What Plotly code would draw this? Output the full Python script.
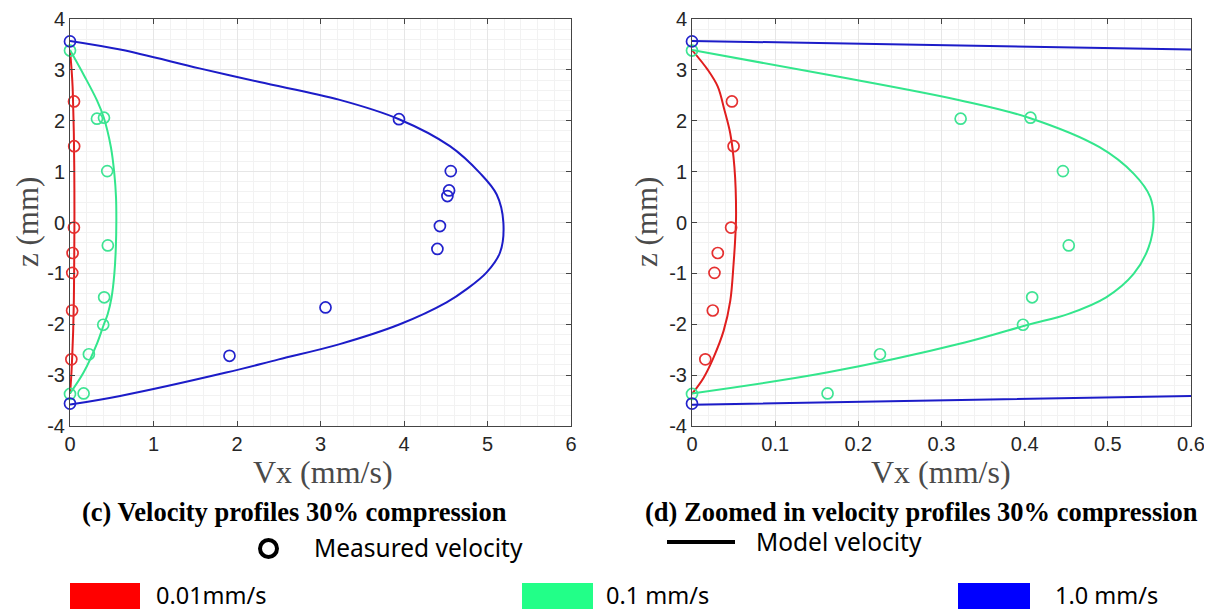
import plotly.graph_objects as go

# ---------------- data (Vx in mm/s, z in mm) ----------------
# model velocity curves
red_model_v = [0, 0.019, 0.031, 0.039, 0.046, 0.051, 0.053, 0.052, 0.050, 0.046, 0.038, 0.026, 0.014, 0]
red_model_z = [3.39, 3.00, 2.67, 2.21, 1.75, 1.09, 0.17, -0.30, -0.81, -1.54, -2.13, -2.65, -3.05, -3.37]

green_model_v = [0, 0.165, 0.323, 0.405, 0.490, 0.531, 0.551, 0.555, 0.549, 0.531, 0.498, 0.452, 0.404, 0.328, 0.162, 0]
green_model_z = [3.39, 2.90, 2.40, 2.06, 1.48, 0.96, 0.50, 0.04, -0.49, -1.01, -1.47, -1.80, -2.01, -2.36, -2.95, -3.36]

blue_model_v = [0, 0.6, 1.55, 2.27, 3.23, 3.94, 4.55, 4.91, 5.11, 5.19, 5.15, 4.99, 4.75, 4.51, 3.95, 3.23, 2.5, 1.87, 0.6, 0]
blue_model_z = [3.57, 3.40, 3.03, 2.76, 2.41, 2.03, 1.50, 0.97, 0.55, 0.0, -0.59, -0.98, -1.31, -1.57, -2.0, -2.39, -2.69, -2.95, -3.41, -3.58]

# measured velocities
red_meas_v = [0.048, 0.050, 0.047, 0.031, 0.027, 0.025, 0.016]
red_meas_z = [2.38, 1.50, -0.10, -0.60, -0.99, -1.73, -2.69]

green_meas_v = [0, 0.323, 0.407, 0.446, 0.453, 0.409, 0.398, 0.226, 0.163, 0]
green_meas_z = [3.38, 2.04, 2.06, 1.01, -0.45, -1.47, -2.01, -2.59, -3.36, -3.37]

blue_meas_v = [0, 3.94, 4.56, 4.54, 4.52, 4.43, 4.40, 3.06, 1.91, 0]
blue_meas_z = [3.56, 2.03, 1.01, 0.63, 0.52, -0.07, -0.52, -1.67, -2.62, -3.56]

# ticks
left_x_ticks = [0, 1, 2, 3, 4, 5, 6]
left_x_labels = ["0", "1", "2", "3", "4", "5", "6"]
right_x_ticks = [0, 0.1, 0.2, 0.3, 0.4, 0.5, 0.6]
right_x_labels = ["0", "0.1", "0.2", "0.3", "0.4", "0.5", "0.6"]
y_ticks = [-4, -3, -2, -1, 0, 1, 2, 3, 4]
y_labels = ["-4", "-3", "-2", "-1", "0", "1", "2", "3", "4"]

series_names = ["0.01mm/s", "0.1 mm/s", "1.0 mm/s"]
caption_left = "(c) Velocity profiles 30% compression"
caption_right = "(d) Zoomed in velocity profiles 30% compression"

# ---------------- styling / layout helpers ----------------
PAGE_W, PAGE_H = 1212, 612
OFF = 8  # default page body margin
W, H = PAGE_W - OFF, PAGE_H - OFF


def fx(p):
    return (p - OFF) / W


def fy(p):
    return 1 - (p - OFF) / H


line_colors = ["#e01e1e", "#33e68c", "#1c1cc8"]
marker_colors = ["#e53030", "#3ee494", "#2222cc"]
legend_colors = ["#ff0000", "#22ff88", "#0000ff"]

models = [(red_model_v, red_model_z), (green_model_v, green_model_z), (blue_model_v, blue_model_z)]
meas = [(red_meas_v, red_meas_z), (green_meas_v, green_meas_z), (blue_meas_v, blue_meas_z)]

x_ranges = {"x": [0, 6], "x2": [0, 0.6]}

fig = go.Figure()
for xa in ["x", "x2"]:
    xmax = x_ranges[xa][1]
    ya = "y" if xa == "x" else "y2"
    for i, (v, z) in enumerate(models):
        fig.add_trace(go.Scatter(x=v, y=z, mode="lines", xaxis=xa, yaxis=ya,
                                 line=dict(color=line_colors[i], width=2, shape="spline", smoothing=1.0),
                                 showlegend=False, hoverinfo="skip"))
    for i, (v, z) in enumerate(meas):
        pts = [(a, b) for a, b in zip(v, z) if a <= xmax]
        fig.add_trace(go.Scatter(x=[p[0] for p in pts], y=[p[1] for p in pts], mode="markers",
                                 xaxis=xa, yaxis=ya, cliponaxis=False,
                                 marker=dict(symbol="circle-open", size=11, color=marker_colors[i],
                                             line=dict(width=1.7, color=marker_colors[i])),
                                 showlegend=False, hoverinfo="skip"))

tickfont = dict(family="Liberation Sans, Arial", size=20, color="#262626")
common = dict(showline=True, linecolor="#444444", linewidth=1, mirror="ticks", ticks="inside",
              ticklen=5, tickcolor="#444444", showgrid=True, gridcolor="#e6e6e6", gridwidth=1,
              zeroline=False, tickfont=tickfont, automargin=False, layer="above traces")
minor_grid = dict(showgrid=True, gridcolor="#f2f2f2", ticks="")

y_dom = [fy(426), fy(19)]
fig.update_layout(
    width=W, height=H, autosize=False,
    margin=dict(l=0, r=0, t=0, b=0),
    paper_bgcolor="white", plot_bgcolor="white",
    xaxis=dict(domain=[fx(70), fx(571)], range=x_ranges["x"], tickvals=left_x_ticks, ticktext=left_x_labels,
               minor=dict(dtick=0.2, **minor_grid), anchor="y", **common),
    yaxis=dict(domain=y_dom, range=[-4, 4], tickvals=y_ticks, ticktext=y_labels,
               minor=dict(dtick=0.2, **minor_grid), anchor="x", **common),
    xaxis2=dict(domain=[fx(692), fx(1191)], range=x_ranges["x2"], tickvals=right_x_ticks, ticktext=right_x_labels,
                minor=dict(dtick=0.02, **minor_grid), anchor="y2", **common),
    yaxis2=dict(domain=y_dom, range=[-4, 4], tickvals=y_ticks, ticktext=y_labels,
                minor=dict(dtick=0.2, **minor_grid), anchor="x2", **common),
)

serif = "Liberation Serif, Times New Roman, serif"
sans = "Noto Sans, Open Sans, sans-serif"
ann = []
# axis titles
for cx, cy in [(323, 472), (941, 472)]:
    ann.append(dict(text="Vx (mm/s)", x=fx(cx), y=fy(cy), xref="paper", yref="paper",
                    showarrow=False, xanchor="center", yanchor="middle",
                    font=dict(family=serif, size=32, color="#4a4a4a")))
for cx in [28, 647]:
    ann.append(dict(text="z (mm)", x=fx(cx), y=fy(222), xref="paper", yref="paper", textangle=-90,
                    showarrow=False, xanchor="center", yanchor="middle",
                    font=dict(family=serif, size=31, color="#4a4a4a")))
# captions
for txt, cx in [(caption_left, 294), (caption_right, 921)]:
    ann.append(dict(text="<b>" + txt + "</b>", x=fx(cx), y=fy(512), xref="paper", yref="paper",
                    showarrow=False, xanchor="center", yanchor="middle",
                    font=dict(family=serif, size=26.5, color="black")))
# legend texts
ann.append(dict(text="Measured velocity", x=fx(312), y=fy(547), xref="paper", yref="paper",
                showarrow=False, xanchor="left", yanchor="middle", font=dict(family=sans, size=24.5, color="black")))
ann.append(dict(text="Model velocity", x=fx(754), y=fy(541), xref="paper", yref="paper",
                showarrow=False, xanchor="left", yanchor="middle", font=dict(family=sans, size=24.5, color="black")))

shapes = []
shapes.append(dict(type="circle", xref="paper", yref="paper", x0=fx(260), x1=fx(277),
                   y0=fy(557), y1=fy(540), line=dict(color="black", width=4)))
shapes.append(dict(type="line", xref="paper", yref="paper", x0=fx(667), x1=fx(735),
                   y0=fy(542), y1=fy(542), line=dict(color="black", width=4)))

legend_boxes = [(70, 140, 154), (522, 593, 604), (958, 1030, 1053)]
for i, (x0, x1, tx) in enumerate(legend_boxes):
    shapes.append(dict(type="rect", xref="paper", yref="paper", x0=fx(x0), x1=fx(x1),
                       y0=fy(609), y1=fy(583), fillcolor=legend_colors[i], line=dict(width=0)))
    ann.append(dict(text=series_names[i], x=fx(tx), y=fy(595), xref="paper", yref="paper",
                    showarrow=False, xanchor="left", yanchor="middle", font=dict(family=sans, size=23.5, color="black")))

fig.update_layout(annotations=ann, shapes=shapes)
fig.write_html("out.html")
